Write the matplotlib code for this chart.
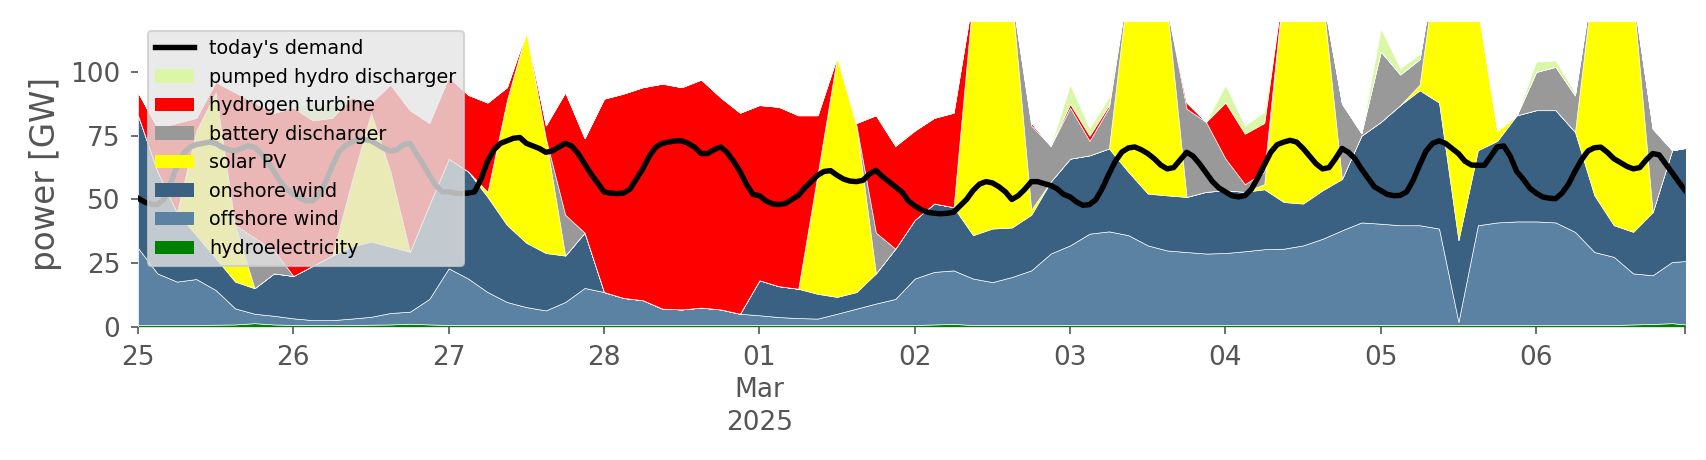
import numpy as np
import pandas as pd
import matplotlib
matplotlib.use("Agg")
import matplotlib.pyplot as plt
from matplotlib.patches import Patch
from matplotlib.lines import Line2D

# generation: 3-hourly values, 25 Feb 2025 00:00 .. 7 Mar 2025 00:00, in GW
times = pd.date_range("2025-02-25", periods=81, freq="3h")

hydroelectricity = [0.8, 0.8, 0.8, 0.8, 0.9, 1.0, 1.5, 1.0,
                    0.8, 0.8, 0.8, 0.8, 0.9, 1.0, 1.3, 1.0,
                    0.8, 0.8, 0.8, 0.8, 0.8, 0.8, 0.8, 0.8,
                    0.8, 0.8, 0.8, 0.8, 0.8, 0.8, 0.8, 0.8,
                    0.8, 0.8, 0.8, 0.8, 0.8, 0.8, 0.8, 0.8,
                    0.8, 1.0, 1.2, 0.8, 0.8, 0.8, 0.8, 0.8,
                    0.8, 0.8, 0.8, 0.8, 0.8, 0.8, 0.8, 0.8,
                    0.8, 0.8, 0.8, 0.8, 0.8, 0.8, 0.8, 0.8,
                    0.8, 0.8, 0.8, 0.8, 0.8, 0.8, 0.8, 0.8,
                    0.8, 0.8, 0.8, 0.8, 0.8, 1.0, 1.2, 1.5,
                    0.8]
offshore_wind = [30.2, 20.2, 17.0, 18.0, 13.6, 6.3, 3.7, 3.4,
                 2.6, 1.9, 1.9, 2.5, 3.1, 4.5, 4.7, 10.0,
                 22.2, 18.2, 12.9, 9.0, 7.0, 5.7, 9.0, 14.5,
                 12.9, 10.6, 9.7, 6.4, 6.1, 6.8, 6.1, 4.4,
                 3.8, 3.1, 2.7, 2.5, 4.4, 6.4, 8.4, 10.2,
                 18.2, 20.6, 21.0, 18.2, 16.8, 18.8, 21.4, 28.0,
                 31.2, 35.8, 36.7, 35.2, 31.2, 29.2, 28.6, 28.0,
                 28.2, 28.9, 29.7, 29.9, 31.2, 33.8, 37.1, 40.2,
                 39.7, 39.1, 39.1, 37.8, 1.2, 39.1, 40.2, 40.6,
                 40.6, 40.2, 36.5, 28.6, 26.7, 20.0, 19.1, 24.0,
                 25.2]
onshore_wind = [52, 40, 27.2, 17.2, 12.5, 10.5, 10, 16.6,
                16.6, 21.3, 25.3, 28.2, 29.5, 26, 23.5, 37,
                43, 42, 37.3, 30.2, 25.2, 22.5, 18.2, 21.7,
                0, 0, 0, 0, 0, 0, 0, 0,
                13.7, 12.1, 11.5, 9.7, 6.6, 6.5, 11.8, 19.7,
                23, 26.8, 24.8, 17, 21, 19.4, 21.8, 28.2,
                34, 30.7, 32.5, 24.8, 20.3, 21.6, 21.6, 24.2,
                24.6, 23.3, 23.5, 18.3, 16.4, 19, 20.1, 34,
                39.9, 47.1, 52.9, 49.4, 32, 29.4, 32, 41.6,
                43.6, 44, 39.2, 22.2, 12.4, 16.3, 24.7, 43.8,
                44.6]
solar_pv = [0, 0, 0, 41, 65, 22.2, 0, 0,
            0, 0, 0, 25.5, 50.5, 29.5, 0, 0,
            0, 0, 2, 49, 83, 45, 0, 0,
            0, 0, 0, 0, 0, 0, 0, 0,
            0, 0, 0, 47, 94.2, 65.3, 0, 0,
            0, 0, 0, 94, 101.4, 91, 2, 0,
            0, 0, 0, 74.2, 97.7, 73.4, 0, 0,
            0, 0, 2, 86, 96.6, 76.4, 0, 0,
            0, 0, 2.2, 62, 106, 55.7, 4, 0,
            0, 0, 0, 88.4, 105.1, 92.7, 0, 0,
            0]
battery_discharger = [0, 0, 0, 0, 0, 0, 19.8, 9,
                      0, 0, 0, 0, 0, 0, 0, 0,
                      0, 0, 0, 0, 0, 0, 16, 0,
                      0, 0, 0, 0, 0, 0, 0, 0,
                      0, 0, 0, 0, 0, 0, 16, 0,
                      0, 0, 0, 0, 0, 0, 33, 14,
                      20, 5.7, 16, 0, 0, 0, 34.6, 27.4,
                      12.4, 3, 4.8, 0, 0, 0, 29.6, 1,
                      27.6, 12, 10, 0, 0, 0, 0, 0,
                      15, 17, 14.3, 0, 0, 0, 32.8, 0,
                      0]
hydrogen_turbine = [9, 17, 35, 5, 4, 52, 53, 54,
                    66, 57, 54, 33, 4, 34, 55.5, 32,
                    32, 30, 35, 5, 0, 5, 48, 37,
                    75.8, 80.1, 83.5, 88.2, 87.1, 89.4, 83.1, 78.8,
                    68.7, 70.3, 68, 23, 0, 1, 46, 40.3,
                    35, 33.6, 37, 0, 0, 0, 1, 0,
                    1.5, 2, 1, 0, 0, 0, 2.4, 0,
                    22, 19.8, 19.2, 0, 0, 0, 0, 0,
                    0, 0, 0, 0, 0, 0, 0, 0,
                    0, 0, 0, 0, 0, 0, 0, 0,
                    0]
pumped_hydro = [0, 0, 0, 0, 0, 0, 0, 0,
                0, 7, 5, 0, 0, 0, 0, 0,
                0, 0, 0, 0, 0, 0, 0, 0,
                0, 0, 0, 0, 0, 0, 0, 0,
                0, 0, 0, 0, 0, 0, 0, 0,
                0, 0, 0, 0, 0, 0, 0, 0,
                7.5, 3, 3, 0, 0, 0, 0, 0,
                6.8, 3.2, 4.3, 0, 0, 0, 0, 0,
                9, 2.5, 2, 0, 0, 0, 0, 0,
                4, 2.5, 1.2, 0, 0, 0, 0, 0,
                0]

# demand: hourly, one row per day
demand_times = pd.date_range("2025-02-25", periods=240, freq="h")
demand = [
    50.5, 49, 48.2, 48, 50, 56, 63, 68, 70.5, 71.5, 72, 72.5, 72, 70.5, 69.5, 69, 70, 71, 70.5, 68, 65, 61, 57, 54,
    52, 50.5, 49.5, 49.5, 52, 57, 63, 68.5, 71, 72.5, 73.5, 73.5, 73, 71.5, 70, 69, 69.5, 71.5, 72, 68, 64, 59.5, 55.5, 53,
    53, 52.5, 52.3, 52.5, 53, 58, 65, 69.5, 72, 73, 74, 74.3, 72, 71, 70, 68.5, 69, 70.5, 72, 71, 68, 64, 60, 56.5,
    53, 52.5, 52.3, 52.5, 54, 58, 62, 67, 70.5, 72, 72.5, 73, 73, 72, 70.5, 68, 68, 69.5, 70.6, 68.5, 65, 61, 56, 52,
    51.5, 49.5, 48.3, 48, 48.4, 50, 51.5, 54.5, 57, 59.5, 61, 61.3, 59.5, 58, 57.2, 57, 57.5, 60, 61.4, 59, 57, 55, 53, 49.5,
    47.5, 46, 45, 44.6, 44.4, 44.6, 45, 47.5, 50, 53.5, 56, 57, 56.5, 55, 53, 50, 51.5, 54, 57, 57, 56.2, 55.5, 54.2, 52,
    51, 49, 47.7, 48, 50, 54.5, 60, 65, 68.6, 70.2, 70.6, 69.5, 68, 66, 63.5, 62, 62.5, 65.5, 68.5, 67, 64, 60.5, 57, 54.5,
    53, 51.5, 51, 51.5, 54, 58.5, 63.5, 68.5, 71.5, 72.5, 73.2, 72.5, 70, 67, 64, 62, 62.5, 66, 70, 68.5, 66, 62, 58.5, 55,
    53.5, 52, 51.5, 51.6, 53, 57.5, 63.5, 69, 72, 73, 72, 70, 68, 65, 63.5, 63.4, 63.4, 67, 70.6, 71, 67, 61, 58, 54.5,
    52.5, 51, 50.5, 50.3, 52.5, 56, 61, 65.5, 69, 70.3, 70.5, 68.5, 66, 64.5, 63, 62, 62.5, 65.5, 68, 67.5, 64, 60.5, 57, 53.6,
]

labels = ["hydroelectricity", "offshore wind", "onshore wind", "solar PV",
          "battery discharger", "hydrogen turbine", "pumped hydro discharger"]
colors = ["#008000", "#5b82a3", "#3b6182", "#ffff00",
          "#999999", "#ff0000", "#d9f7a6"]
series = [hydroelectricity, offshore_wind, onshore_wind, solar_pv,
          battery_discharger, hydrogen_turbine, pumped_hydro]

fig = plt.figure(figsize=(1706 / 150, 460 / 150), dpi=150)
ax = fig.add_axes([138 / 1706, 1 - 327 / 460, (1685 - 138) / 1706, (327 - 21.7) / 460])

ax.stackplot(times, *series, colors=colors, edgecolor="white", linewidth=0.3)
ax.plot(demand_times, demand, color="black", lw=2.6)

ax.set_xlim(pd.Timestamp("2025-02-25 00:00"), pd.Timestamp("2025-03-06 23:00"))
ax.set_ylim(0, 119.7)
ax.set_yticks([0, 25, 50, 75, 100])

days = pd.date_range("2025-02-25", "2025-03-06", freq="D")
ticks = list(days) + [pd.Timestamp("2025-03-06 23:00")]
ticklabels = []
for d in days:
    if d.day == 1:
        ticklabels.append(d.strftime("%d\n%b\n%Y"))
    else:
        ticklabels.append(d.strftime("%d"))
ticklabels.append("")
ax.set_xticks(ticks)
ax.set_xticklabels(ticklabels, linespacing=1.32)

for s in ax.spines.values():
    s.set_visible(False)
ax.tick_params(axis="both", colors="#555555", labelsize=12.7, length=3.5,
               width=0.8, pad=5)
ax.set_ylabel("power [GW]", color="#555555", fontsize=15.7)

handles = [Line2D([0], [0], color="black", lw=2.6)]
for lab, col in zip(labels[::-1], colors[::-1]):
    handles.append(Patch(facecolor=col, label=lab))
leg = ax.legend(handles, ["today's demand"] + labels[::-1], loc="upper left",
                fontsize=9.2, facecolor="#e5e5e5", edgecolor="#cccccc",
                framealpha=0.8)

fig.savefig("out.png", dpi=150)
